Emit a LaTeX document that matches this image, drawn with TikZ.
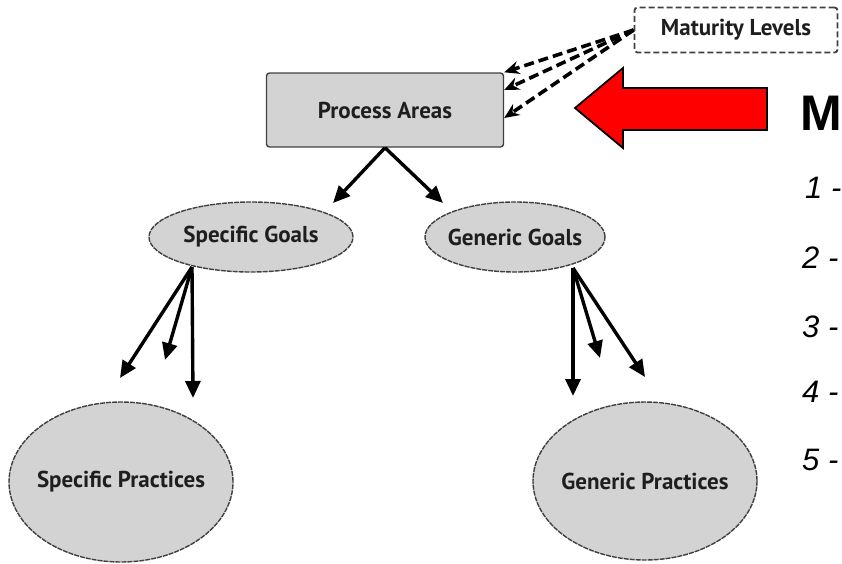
\documentclass[tikz,border=0pt]{standalone}
\usepackage{fontspec}
\setmainfont{Liberation Sans}
\newfontfamily\cmboxfont{PT Sans}
\usetikzlibrary{arrows.meta,positioning,shapes.geometric,calc}
\definecolor{Ink}{HTML}{1E1E1E}
\definecolor{AreaGrey}{HTML}{D3D3D3}
\definecolor{SignalRed}{HTML}{FF0000}

\begin{document}
\begin{tikzpicture}[x=1pt,y=-1pt]
  \path[use as bounding box] (0,0) rectangle (842,563);

  \tikzset{
    cmBox/.style={
      draw=Ink!85,
      fill=AreaGrey,
      line width=1.4pt,
      rounded corners=3pt,
      inner sep=0pt,
      align=center,
      font=\cmboxfont\bfseries\fontsize{23}{25}\selectfont,
      text=Ink
    },
    cmOval/.style={
      cmBox,
      ellipse,
      inner xsep=-25pt,
      dash pattern=on 5pt off 1pt
    },
    cmMaturity/.style={
      cmBox,
      fill=white,
      line width=1.8pt,
      dash pattern=on 6pt off 3pt
    },
    cmFlow/.style={
      -{Triangle[length=17pt,width=15pt]},
      draw=black,
      line width=3.4pt
    },
    cmLevelFlow/.style={
      -{Stealth[length=15pt,width=13pt]},
      draw=black,
      line width=3.6pt,
      dash pattern=on 10pt off 5pt
    },
    cmBigArrow/.style={
      draw=black,
      fill=SignalRed,
      line width=1.8pt,
      line join=miter
    },
    cmLevel/.style={
      anchor=west,
      inner sep=0pt,
      font=\itshape\fontsize{31}{33}\selectfont
    }
  }

  % top: model parts
  \node[cmBox,minimum width=237pt,minimum height=74pt] (area) at (385,110)
    {Process Areas};
  \node[cmMaturity,minimum width=203pt,minimum height=45pt] (maturity) at (736,30)
    {Maturity Levels};

  % goals and practices
  \node[cmOval,minimum width=204pt,minimum height=70pt] (sgoal) at (251,237)
    {Specific Goals};
  \node[cmOval,minimum width=180pt,minimum height=70pt] (ggoal) at (515,237)
    {Generic Goals};
  \node[cmOval,minimum width=224pt,minimum height=160pt] (spract) at (121,482)
    {Specific Practices};
  \node[cmOval,minimum width=224pt,minimum height=158pt] (gpract) at (645,481)
    {Generic Practices};

  % levels point into the process areas
  \draw[cmLevelFlow] (maturity.west) -- (area.north east);
  \draw[cmLevelFlow] (maturity.west) -- ($(area.east)+(0,-20)$);
  \draw[cmLevelFlow] (maturity.west) -- ($(area.east)+(0,8)$);

  \draw[cmFlow] (area.south) -- (333,203);
  \draw[cmFlow] (area.south) -- (443,203);

  % goal feet and open arrow ends
  \coordinate (sfoot) at (192,267);
  \coordinate (gfoot) at (573,268);
  \draw[cmFlow] (sfoot) -- (120,378);
  \draw[cmFlow] (sfoot) -- (165,360);
  \draw[cmFlow] (sfoot) -- (193,398);
  \draw[cmFlow] (gfoot) -- (573,396);
  \draw[cmFlow] (gfoot) -- (600,358);
  \draw[cmFlow] (gfoot) -- (645,377);

  % red pointer and the list beside it
  \draw[cmBigArrow] (767,88) -- (623,88) -- (623,68) -- (575,108)
    -- (623,148) -- (623,130) -- (767,130) -- cycle;
  \node[anchor=base west,inner sep=0pt,font=\bfseries\fontsize{50}{52}\selectfont]
    (mhead) at (800,130) {M};
  \node[cmLevel] (lvone)   at (805,188) {1 -};
  \node[cmLevel] (lvtwo)   at (802,258) {2 -};
  \node[cmLevel] (lvthree) at (802,327) {3 -};
  \node[cmLevel] (lvfour)  at (802,392) {4 -};
  \node[cmLevel] (lvfive)  at (802,460) {5 -};
\end{tikzpicture}
\end{document}
